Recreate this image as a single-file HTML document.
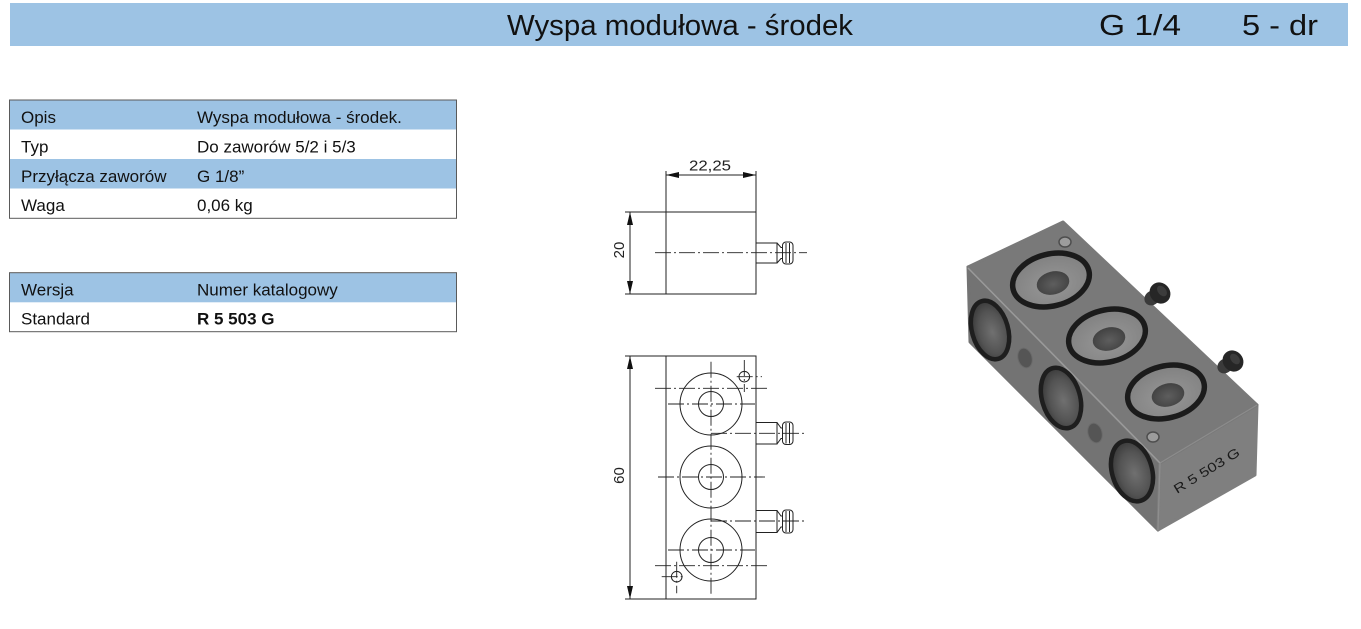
<!DOCTYPE html>
<html><head><meta charset="utf-8">
<style>
html,body{margin:0;padding:0;background:#fff;}
svg{display:block;}
text{font-family:"Liberation Sans","DejaVu Sans",sans-serif;}
</style></head><body>
<svg width="1361" height="629" viewBox="0 0 1361 629" xmlns="http://www.w3.org/2000/svg">
<defs>
<radialGradient id="sideHole" cx="0.55" cy="0.55" r="0.6">
<stop offset="0" stop-color="#707070"/><stop offset="0.6" stop-color="#535353"/><stop offset="1" stop-color="#343434"/>
</radialGradient>
<radialGradient id="topIn" cx="0.5" cy="0.6" r="0.6">
<stop offset="0" stop-color="#979797"/><stop offset="1" stop-color="#808080"/>
</radialGradient>
<radialGradient id="topHole" cx="0.5" cy="0.55" r="0.6">
<stop offset="0" stop-color="#5e5e5e"/><stop offset="1" stop-color="#3f3f3f"/>
</radialGradient>
</defs>
<rect width="1361" height="629" fill="#fff"/>

<!-- header -->
<rect x="10" y="3" width="1338" height="43" fill="#9dc3e4"/>
<text x="507" y="35" font-size="29" fill="#111" textLength="346" lengthAdjust="spacingAndGlyphs">Wyspa modułowa - środek</text>
<text x="1099" y="35" font-size="29" fill="#111" textLength="82" lengthAdjust="spacingAndGlyphs">G 1/4</text>
<text x="1242" y="35" font-size="29" fill="#111" textLength="76" lengthAdjust="spacingAndGlyphs">5 - dr</text>

<!-- table 1 -->
<rect x="9.5" y="100" width="447" height="29.5" fill="#9dc3e4"/>
<rect x="9.5" y="159" width="447" height="29.5" fill="#9dc3e4"/>
<rect x="9.5" y="100" width="447" height="118.3" fill="none" stroke="#5a5a5a" stroke-width="1"/>
<g font-size="17" fill="#111">
<text x="21" y="122.8">Opis</text>
<text x="197" y="122.8">Wyspa modułowa - środek.</text>
<text x="21" y="152.4">Typ</text>
<text x="197" y="152.4">Do zaworów 5/2 i 5/3</text>
<text x="21" y="181.8">Przyłącza zaworów</text>
<text x="197" y="181.8">G 1/8”</text>
<text x="21" y="210.8">Waga</text>
<text x="197" y="210.8">0,06 kg</text>
</g>

<!-- table 2 -->
<rect x="9.5" y="272.7" width="447" height="29.6" fill="#9dc3e4"/>
<rect x="9.5" y="272.7" width="447" height="59" fill="none" stroke="#5a5a5a" stroke-width="1"/>
<g font-size="17" fill="#111">
<text x="21" y="295.6">Wersja</text>
<text x="197" y="295.6">Numer katalogowy</text>
<text x="21" y="324.3">Standard</text>
<text x="197" y="324.3" font-weight="bold">R 5 503 G</text>
</g>

<!-- ===== technical drawing ===== -->
<g stroke="#222" stroke-width="1" fill="none">
<rect x="666" y="212" width="90" height="82"/>
<line x1="666" y1="171" x2="666" y2="212"/>
<line x1="756" y1="171" x2="756" y2="212"/>
<line x1="666" y1="175" x2="756" y2="175"/>
<line x1="625" y1="212" x2="666" y2="212"/>
<line x1="625" y1="294" x2="666" y2="294"/>
<line x1="630" y1="212" x2="630" y2="294"/>
<rect x="756" y="243" width="21" height="20"/>
<path d="M777 243 L781 247.5 L782.5 247.5 M777 263 L781 258.5 L782.5 258.5"/>
<rect x="782.5" y="242" width="10.5" height="22" rx="3.5"/>
<line x1="786" y1="243" x2="786" y2="263"/>
<line x1="789.5" y1="243" x2="789.5" y2="263"/>

<rect x="666" y="356" width="90" height="243"/>
<line x1="625" y1="356" x2="666" y2="356"/>
<line x1="625" y1="599" x2="666" y2="599"/>
<line x1="630" y1="356" x2="630" y2="599"/>

<circle cx="711" cy="404" r="31"/>
<circle cx="711" cy="404" r="12.5"/>
<circle cx="711" cy="477" r="31"/>
<circle cx="711" cy="477" r="12.5"/>
<circle cx="711" cy="550" r="31"/>
<circle cx="711" cy="550" r="12.5"/>
<circle cx="744.3" cy="376.7" r="5.3"/>
<circle cx="676.7" cy="576.7" r="5.3"/>

<rect x="756" y="422.5" width="21" height="21.5"/>
<path d="M777 422.5 L781 428 L782.5 428 M777 444 L781 438.5 L782.5 438.5"/>
<rect x="782.5" y="422" width="10.5" height="22.5" rx="3.5"/>
<line x1="786" y1="423" x2="786" y2="443.5"/>
<line x1="789.5" y1="423" x2="789.5" y2="443.5"/>

<rect x="756" y="510.5" width="21" height="22"/>
<path d="M777 510.5 L781 516 L782.5 516 M777 532.5 L781 527 L782.5 527"/>
<rect x="782.5" y="510" width="10.5" height="23" rx="3.5"/>
<line x1="786" y1="511" x2="786" y2="532"/>
<line x1="789.5" y1="511" x2="789.5" y2="532"/>
</g>

<g stroke="#222" stroke-width="0.9" fill="none" stroke-dasharray="16 3 2 3">
<line x1="655" y1="252.7" x2="807" y2="252.7"/>
<line x1="711" y1="361.7" x2="711" y2="596"/>
<line x1="655" y1="388.3" x2="767" y2="388.3"/>
<line x1="668" y1="404" x2="755" y2="404"/>
<line x1="711" y1="433.3" x2="805" y2="433.3"/>
<line x1="658" y1="477" x2="765" y2="477"/>
<line x1="711" y1="521" x2="805" y2="521"/>
<line x1="668" y1="550" x2="755" y2="550"/>
<line x1="655" y1="565.7" x2="767" y2="565.7"/>
<line x1="744.3" y1="360" x2="744.3" y2="392"/>
<line x1="736.7" y1="376.7" x2="762" y2="376.7"/>
<line x1="676.7" y1="561.7" x2="676.7" y2="593.3"/>
<line x1="661.7" y1="576.7" x2="683.3" y2="576.7"/>
</g>

<g fill="#111">
<polygon points="666,175 679,172 679,178"/>
<polygon points="756,175 743,172 743,178"/>
<polygon points="630,212 627,225 633,225"/>
<polygon points="630,294 627,281 633,281"/>
<polygon points="630,356 627,369 633,369"/>
<polygon points="630,599 627,586 633,586"/>
</g>

<g font-size="15" fill="#222">
<text x="689" y="170.5" textLength="42" lengthAdjust="spacingAndGlyphs">22,25</text>
<text transform="translate(624,250) rotate(-90)" text-anchor="middle">20</text>
<text transform="translate(624,475.5) rotate(-90)" text-anchor="middle">60</text>
</g>

<!-- ===== 3D block ===== -->
<g stroke-linejoin="round">
<polygon points="968,267 1160,463 1158,530 970,342" fill="#737373" stroke="#737373" stroke-width="3"/>
<polygon points="1160,463 1257,405 1255,475 1158,530" fill="#7f7f7f" stroke="#7f7f7f" stroke-width="3"/>
<polygon points="968,267 1063,222 1257,405 1160,463" fill="#797979" stroke="#797979" stroke-width="3"/>
<line x1="968" y1="268" x2="1160" y2="463" stroke="#9a9a9a" stroke-width="1.5"/>
<line x1="1160" y1="463" x2="1257" y2="405" stroke="#8c8c8c" stroke-width="1.2"/>
<line x1="1160" y1="463" x2="1158" y2="530" stroke="#8e8e8e" stroke-width="1.2"/>
</g>

<g>
<ellipse cx="1152" cy="298" rx="8" ry="7" fill="#3a3a3a" transform="rotate(-40 1152 298)"/>
<ellipse cx="1160" cy="293" rx="10" ry="11" fill="#262626" transform="rotate(-40 1160 293)"/>
<ellipse cx="1162" cy="291" rx="4" ry="6" fill="#3c3c3c" transform="rotate(-40 1162 291)"/>
<ellipse cx="1225" cy="366" rx="8" ry="7" fill="#3a3a3a" transform="rotate(-40 1225 366)"/>
<ellipse cx="1233" cy="361" rx="10" ry="11" fill="#262626" transform="rotate(-40 1233 361)"/>
<ellipse cx="1235" cy="359" rx="4" ry="6" fill="#3c3c3c" transform="rotate(-40 1235 359)"/>
</g>

<g>
<ellipse cx="1051" cy="280" rx="39" ry="26" fill="url(#topIn)" stroke="#1b1b1b" stroke-width="5.5" transform="rotate(-14 1051 280)"/>
<ellipse cx="1053" cy="283" rx="16.5" ry="11.5" fill="url(#topHole)" transform="rotate(-14 1053 283)"/>
<ellipse cx="1107" cy="336" rx="39" ry="26" fill="url(#topIn)" stroke="#1b1b1b" stroke-width="5.5" transform="rotate(-14 1107 336)"/>
<ellipse cx="1109" cy="339" rx="16.5" ry="11.5" fill="url(#topHole)" transform="rotate(-14 1109 339)"/>
<ellipse cx="1166" cy="392" rx="39" ry="26" fill="url(#topIn)" stroke="#1b1b1b" stroke-width="5.5" transform="rotate(-14 1166 392)"/>
<ellipse cx="1168" cy="395" rx="16.5" ry="11.5" fill="url(#topHole)" transform="rotate(-14 1168 395)"/>
</g>

<ellipse cx="1065" cy="242" rx="6" ry="5" fill="#9c9c9c" stroke="#4e4e4e" stroke-width="1.5"/>
<ellipse cx="1153" cy="437" rx="6" ry="5" fill="#9c9c9c" stroke="#4e4e4e" stroke-width="1.5"/>

<g>
<ellipse cx="990" cy="330" rx="18" ry="30" fill="url(#sideHole)" stroke="#1e1e1e" stroke-width="4.5" transform="rotate(-16 990 330)"/>
<ellipse cx="1061" cy="398" rx="19" ry="31" fill="url(#sideHole)" stroke="#1e1e1e" stroke-width="4.5" transform="rotate(-16 1061 398)"/>
<ellipse cx="1132" cy="471" rx="20" ry="31" fill="url(#sideHole)" stroke="#1e1e1e" stroke-width="4.5" transform="rotate(-16 1132 471)"/>
<ellipse cx="1025" cy="358" rx="7" ry="10" fill="#555" stroke="#6a6a6a" stroke-width="1" transform="rotate(-16 1025 358)"/>
<ellipse cx="1095" cy="433" rx="7" ry="10" fill="#555" stroke="#6a6a6a" stroke-width="1" transform="rotate(-16 1095 433)"/>
</g>

<text transform="translate(1177,494) rotate(-31.5)" font-size="13" fill="#1a1a1a" textLength="75" lengthAdjust="spacingAndGlyphs">R 5 503 G</text>
</svg>
</body></html>
